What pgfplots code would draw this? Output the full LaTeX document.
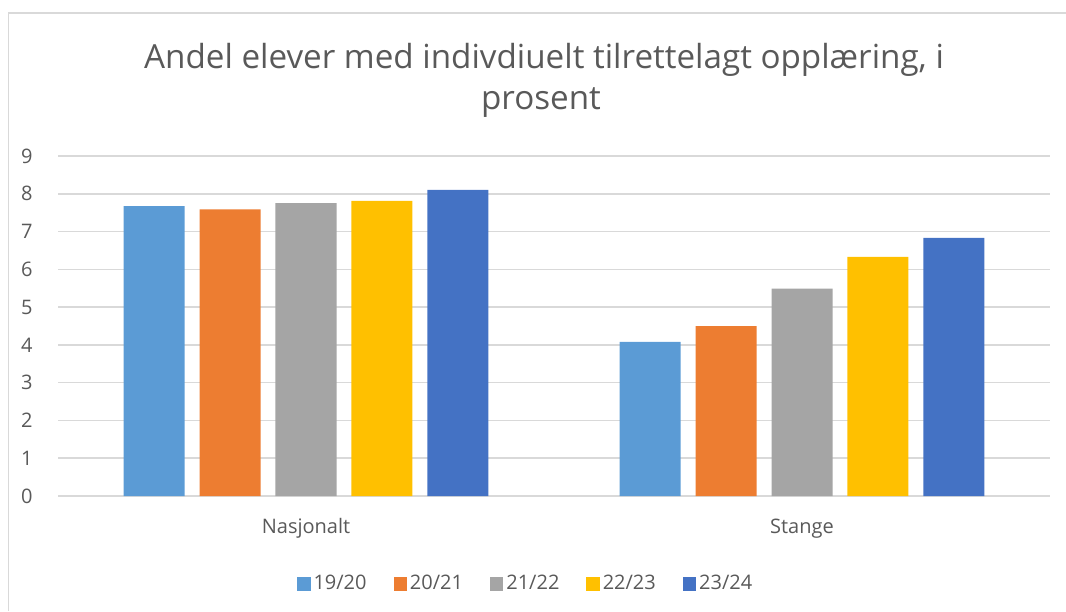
\documentclass[border=0pt]{standalone}
\usepackage{pgfplots}
\pgfplotsset{compat=1.18}
\usepackage{fontspec}
\setmainfont{Open Sans}
\definecolor{txt}{HTML}{595959}
\definecolor{gridc}{HTML}{D9D9D9}
\definecolor{c1}{HTML}{5B9BD5}
\definecolor{c2}{HTML}{ED7D31}
\definecolor{c3}{HTML}{A5A5A5}
\definecolor{c4}{HTML}{FFC000}
\definecolor{c5}{HTML}{4472C4}
\begin{document}
\begin{tikzpicture}
\path[use as bounding box] (0,0) rectangle (533pt,305.5pt);
\draw[gridc, line width=0.75pt] (4.25pt,0) -- (4.25pt,299pt) -- (533pt,299pt);
\node[anchor=base, text=txt, inner sep=0pt, font=\fontsize{16.6}{20}\selectfont] at (272pt,271pt) {Andel elever med indivdiuelt tilrettelagt opplæring, i};
\node[anchor=base, text=txt, inner sep=0pt, font=\fontsize{16.6}{20}\selectfont] at (270.5pt,250.5pt) {prosent};
\begin{axis}[
  at={(29pt,57.5pt)}, anchor=south west,
  scale only axis, width=496pt, height=170pt,
  ybar, bar width=0.123,
  xmin=-0.5, xmax=1.5, ymin=0, ymax=9,
  enlargelimits=false,
  xtick={0,1}, xticklabels={Nasjonalt,Stange},
  ytick={0,1,...,9},
  major tick length=0pt,
  axis line style={draw=none},
  ymajorgrids, grid style={gridc, line width=0.75pt},
  /pgf/number format/assume math mode=true,
  tick label style={font=\fontsize{10}{12}\selectfont, text=txt},
  yticklabel style={anchor=east, inner sep=0pt, xshift=-12.5pt},
  xticklabel style={anchor=base, inner sep=0pt, yshift=-18.5pt},
  legend columns=5,
  legend style={at={(axis description cs:0.472,-0.259)}, anchor=center, draw=none, fill=none,
    font=\fontsize{10}{12}\selectfont, text=txt,
    /tikz/every even column/.append style={column sep=12pt},
    nodes={inner sep=1.5pt}},
  legend image code/.code={\fill[#1] (0pt,-3.33pt) rectangle (6.67pt,3.33pt);},
]
\addplot[fill=c1, draw=none, bar shift=-0.306] coordinates {(0,7.67) (1,4.08)};
\addplot[fill=c2, draw=none, bar shift=-0.153] coordinates {(0,7.59) (1,4.50)};
\addplot[fill=c3, draw=none, bar shift=0] coordinates {(0,7.75) (1,5.49)};
\addplot[fill=c4, draw=none, bar shift=0.153] coordinates {(0,7.81) (1,6.33)};
\addplot[fill=c5, draw=none, bar shift=0.306] coordinates {(0,8.10) (1,6.83)};
\legend{19/20,20/21,21/22,22/23,23/24}
\end{axis}
\end{tikzpicture}
\end{document}
